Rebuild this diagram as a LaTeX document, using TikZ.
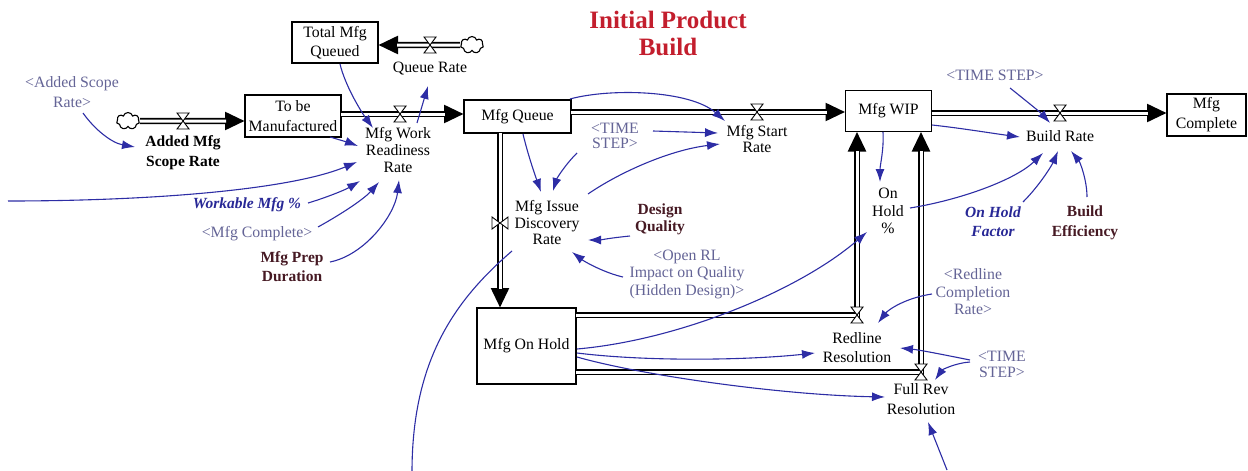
\documentclass[tikz,border=0pt]{standalone}
\usepackage{fontspec}
\setmainfont{Liberation Serif}
\usetikzlibrary{arrows.meta,shapes.symbols,calc}
\definecolor{connc}{RGB}{45,45,165}
\definecolor{shadowc}{RGB}{100,100,150}
\definecolor{constc}{RGB}{70,25,35}
\definecolor{italc}{RGB}{40,40,150}
\definecolor{titlec}{RGB}{195,30,45}
\tikzset{valve/.pic={\draw[line width=0.9pt, fill=white] (-6,-8) -- (6,-8) -- (-6,8) -- (6,8) -- cycle;}}
\begin{document}
\begin{tikzpicture}[x=1pt,y=-1pt,
  txt/.style={font=\fontsize{15.8}{17.5}\selectfont, align=center, inner sep=1pt},
  stock/.style={txt, draw, line width=1.2pt, fill=white, inner sep=0pt},
  shadowv/.style={txt, text=shadowc},
  constv/.style={txt, font=\bfseries\fontsize{15.5}{19}\selectfont, text=constc},
  italv/.style={txt, font=\bfseries\itshape\fontsize{15.5}{19}\selectfont, text=italc},
  conn/.style={draw=connc, line width=1.1pt, -{Latex[length=13pt,width=9pt]}},
  pipe/.style={draw=black, line width=6.2pt, -{Triangle[length=20pt,width=17pt]},
     postaction={draw=white, line width=3pt, -, shorten >=19pt}},
  cloudv/.style={cloud, cloud puffs=7, aspect=1.3, draw, line width=1.1pt, fill=white,
     minimum width=23pt, minimum height=17pt, inner sep=0pt}
]
\useasboundingbox (0,0) rectangle (1248,471);

% title
\node[txt, font=\bfseries\fontsize{25}{27}\selectfont, text=titlec] (title) at (668,33) {Initial Product\\Build};

% stocks
\node[stock, minimum width=86, minimum height=41, font=\fontsize{15.8}{19}\selectfont] (tq) at (335,42.5) {Total Mfg\\Queued};
\node[stock, minimum width=96, minimum height=42, font=\fontsize{15.8}{20}\selectfont] (tbm) at (293,116) {To be\\Manufactured};
\node[stock, minimum width=107, minimum height=33] (mq) at (517.5,116.5) {Mfg Queue};
\node[stock, minimum width=86, minimum height=41] (wip) at (888.5,111) {Mfg WIP};
\node[stock, minimum width=79, minimum height=42, font=\fontsize{15.8}{20}\selectfont] (mc) at (1206.5,115) {Mfg\\Complete};
\node[stock, minimum width=99, minimum height=76] (oh) at (526.5,346) {Mfg On Hold};

% clouds
\node[cloudv] (cloud1) at (128,121) {};
\node[cloudv] (cloud2) at (472,45) {};

% pipes
\draw[pipe] (cloud1.east) -- ([shift={(-48,5)}]tbm.center);
\draw[pipe] ([shift={(48,-2)}]tbm.center) -- ([shift={(-53.5,-2.5)}]mq.center);
\draw[pipe] (cloud2.west) -- ([shift={(43,2.5)}]tq.center);
\draw[pipe] ([shift={(53.5,-4.5)}]mq.center) -- ([shift={(-43,1)}]wip.center);
\draw[pipe] ([shift={(43,2)}]wip.center) -- ([shift={(-39.5,-2)}]mc.center);
\draw[pipe] ([shift={(-17.5,16.5)}]mq.center) -- ([shift={(-26.5,-38)}]oh.center);
\draw[pipe] ([shift={(49.5,-31)}]oh.center) -| ([shift={(-31.5,20.5)}]wip.center);
\draw[pipe] ([shift={(49.5,26)}]oh.center) -| ([shift={(32.5,20.5)}]wip.center);

% valves
\pic at (183,121) {valve};
\pic at (400,114) {valve};
\pic at (430,45) {valve};
\pic at (757,112) {valve};
\pic at (1060,113) {valve};
\pic[rotate=90] at (500,223) {valve};
\pic at (857,315) {valve};
\pic at (921,372) {valve};

% rate labels
\node[txt, font=\bfseries\fontsize{15.5}{20}\selectfont] (amsr) at (183,153) {Added Mfg\\Scope Rate};
\node[txt, font=\fontsize{15.8}{17}\selectfont] (mwrr) at (398,150) {Mfg Work\\Readiness\\Rate};
\node[txt] (qr) at (430,69) {Queue Rate};
\node[txt, font=\fontsize{15.8}{16}\selectfont] (msr) at (757,139) {Mfg Start\\Rate};
\node[txt, font=\fontsize{15.8}{16.5}\selectfont] (mid) at (547,223) {Mfg Issue\\Discovery\\Rate};
\node[txt] (br) at (1060,136) {Build Rate};
\node[txt, font=\fontsize{15.8}{19}\selectfont] (rr) at (857,348) {Redline\\Resolution};
\node[txt, font=\fontsize{15.8}{20}\selectfont] (frr) at (921,399) {Full Rev\\Resolution};

% auxiliaries
\node[shadowv, font=\fontsize{15.8}{20}\selectfont] (asrsh) at (72,92) {<Added Scope\\Rate>};
\node[italv] (wm) at (247,205) {Workable Mfg \%};
\node[shadowv] (mcsh) at (257,234) {<Mfg Complete>};
\node[constv] (mpd) at (292,267) {Mfg Prep\\Duration};
\node[shadowv, font=\fontsize{15.8}{15}\selectfont] (ts1) at (615,136) {<TIME\\STEP>};
\node[constv, font=\bfseries\fontsize{15.5}{17}\selectfont] (dq) at (660,219) {Design\\Quality};
\node[shadowv] (orl) at (687,274) {<Open RL\\Impact on Quality\\(Hidden Design)>};
\node[shadowv] (ts2) at (995,75) {<TIME STEP>};
\node[txt, font=\fontsize{15.8}{17.5}\selectfont] (ohp) at (888,211) {On\\Hold\\\%};
\node[italv] (ohf) at (993,222) {On Hold\\Factor};
\node[constv, font=\bfseries\fontsize{15.5}{20}\selectfont] (be) at (1085,223) {Build\\Efficiency};
\node[shadowv] (rcr) at (973,292) {<Redline\\Completion\\Rate>};
\node[shadowv, font=\fontsize{15.8}{16}\selectfont] (ts3) at (1002,364) {<TIME\\STEP>};

\coordinate (lft) at (8,201);
\coordinate (bot1) at (412,472);
\coordinate (bot2) at (947,470);

% connectors
\draw[conn] ([shift={(11,21)}]asrsh.center) .. controls (95,130) and (112,143) .. ([shift={(-48,-6)}]amsr.center);
\draw[conn] ([shift={(37,21)}]tbm.center) .. controls (340,140) and (350,143) .. ([shift={(-40,-4)}]mwrr.center);
\draw[conn] ([shift={(5,21.5)}]tq.center) .. controls (345,85) and (360,110) .. ([shift={(-25,-22)}]mwrr.center);
\draw[conn] ([shift={(19,-27)}]mwrr.center) -- ([shift={(-2,17)}]qr.center);
\draw[conn] (lft) .. controls (150,201) and (290,190) .. ([shift={(-41,12)}]mwrr.center);
\draw[conn] ([shift={(61,-2)}]wm.center) .. controls (325,198) and (345,190) .. ([shift={(-38,31)}]mwrr.center);
\draw[conn] ([shift={(61,-7)}]mcsh.center) .. controls (345,212) and (365,198) .. ([shift={(-19,32)}]mwrr.center);
\draw[conn] ([shift={(38,-5)}]mpd.center) .. controls (365,255) and (395,215) .. ([shift={(1,30)}]mwrr.center);
\draw[conn] ([shift={(5.5,17.5)}]mq.center) .. controls (528,155) and (535,175) .. ([shift={(-6,-31)}]mid.center);
\draw[conn] ([shift={(-38,17)}]ts1.center) .. controls (565,165) and (557,178) .. ([shift={(6,-32)}]mid.center);
\draw[conn] ([shift={(41,-29)}]mid.center) .. controls (620,172) and (670,150) .. ([shift={(-37,5)}]msr.center);
\draw[conn] ([shift={(38,-5)}]ts1.center) -- ([shift={(-39,-6)}]msr.center);
\draw[conn] ([shift={(52.5,-17.5)}]mq.center) .. controls (610,88) and (690,90) .. ([shift={(-32,-18)}]msr.center);
\draw[conn] ([shift={(-30,17)}]dq.center) .. controls (610,238) and (600,240) .. ([shift={(41,17)}]mid.center);
\draw[conn] ([shift={(-64,3)}]orl.center) .. controls (605,273) and (585,262) .. ([shift={(25,29)}]mid.center);
\draw[draw=connc, line width=1.1pt] ([shift={(-35,28)}]mid.center) .. controls (455,300) and (412,360) .. (bot1);
\draw[conn] ([shift={(50.5,3)}]oh.center) .. controls (680,340) and (800,290) .. ([shift={(-21,21)}]ohp.center);
\draw[conn] ([shift={(50.5,7)}]oh.center) .. controls (650,362) and (750,360) .. ([shift={(-42,5)}]rr.center);
\draw[conn] ([shift={(50.5,11)}]oh.center) .. controls (640,375) and (780,395) .. ([shift={(-36,-2)}]frr.center);
\draw[conn] ([shift={(-5.5,21)}]wip.center) .. controls (884,150) and (880,165) .. ([shift={(-8,-29)}]ohp.center);
\draw[conn] ([shift={(22,-3)}]ohp.center) .. controls (960,200) and (1015,180) .. ([shift={(-17,17)}]br.center);
\draw[conn] ([shift={(43.5,14)}]wip.center) .. controls (960,128) and (990,133) .. ([shift={(-40,1)}]br.center);
\draw[conn] ([shift={(15,13)}]ts2.center) .. controls (1025,100) and (1040,112) .. ([shift={(-10,-13)}]br.center);
\draw[conn] ([shift={(30,-20)}]ohf.center) .. controls (1040,185) and (1052,165) .. ([shift={(-2,15)}]br.center);
\draw[conn] ([shift={(2,-26)}]be.center) .. controls (1087,180) and (1080,162) .. ([shift={(11,15)}]br.center);
\draw[conn] ([shift={(-41,2)}]rcr.center) .. controls (905,298) and (888,310) .. ([shift={(21,-25)}]rr.center);
\draw[conn] ([shift={(-32,-4)}]ts3.center) .. controls (945,355) and (920,350) .. ([shift={(43,0)}]rr.center);
\draw[conn] ([shift={(-32,-2)}]ts3.center) .. controls (955,363) and (942,370) .. ([shift={(14,-19)}]frr.center);
\draw[conn] (bot2) -- ([shift={(7,23)}]frr.center);
\end{tikzpicture}
\end{document}
